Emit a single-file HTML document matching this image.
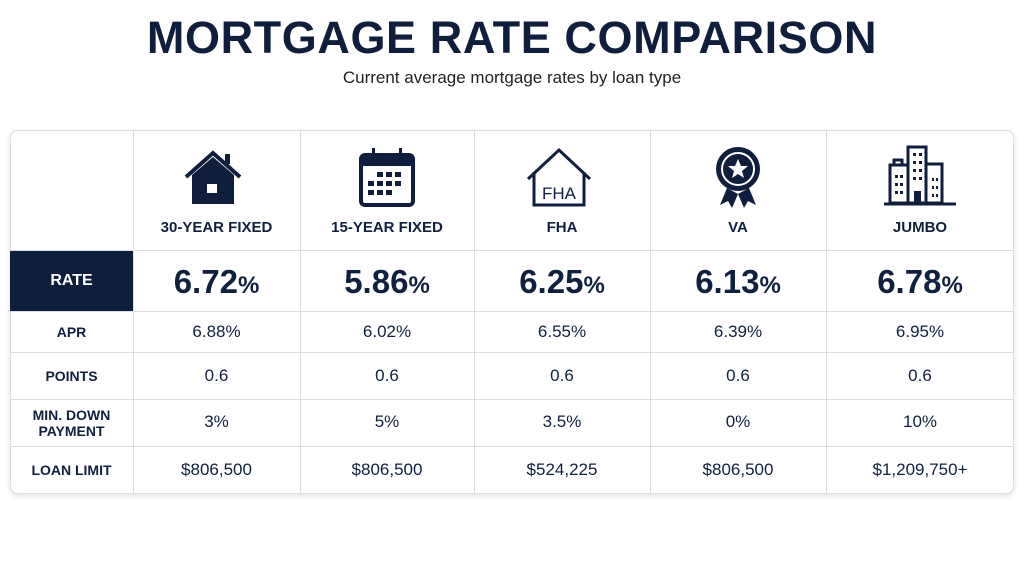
<!DOCTYPE html>
<html><head><style>
*{margin:0;padding:0;box-sizing:border-box}
body{width:1024px;height:576px;background:#fff;position:relative;overflow:hidden;font-family:"Liberation Sans",sans-serif;color:#10203f}
.a{position:absolute}
.t{left:0;width:1024px;text-align:center;top:12px;font-size:45px;font-weight:bold;letter-spacing:0.6px;color:#0f1e3d}
.s{left:0;width:1024px;text-align:center;top:68px;font-size:17px;color:#222}
.card{left:10px;top:130px;width:1004px;height:364px;border:1px solid #ddd;border-radius:8px;box-shadow:0 2px 6px rgba(0,0,0,.12)}
.hl{height:1px;background:#ddd;left:10px;width:1004px}
.vl{width:1px;background:#ddd;top:130px;height:364px}
.c{text-align:center}
.h{font-size:15px;font-weight:bold;top:219px}
.r{font-size:33px;font-weight:bold;top:263px}
.r span{font-size:24px}
.v{font-size:17px}
.lb{left:10px;width:123px;text-align:center;font-size:14px;font-weight:bold;line-height:16px}
</style></head><body>
<div class="a t">MORTGAGE RATE COMPARISON</div>
<div class="a s">Current average mortgage rates by loan type</div>
<div class="a card"></div>
<div class="a" style="left:10px;top:250px;width:123px;height:61px;background:#0f1e3d"></div>
<div class="a hl" style="top:250px"></div>
<div class="a hl" style="top:311px"></div>
<div class="a hl" style="top:352px"></div>
<div class="a hl" style="top:399px"></div>
<div class="a hl" style="top:446px"></div>
<div class="a vl" style="left:133px"></div>
<div class="a vl" style="left:300px"></div>
<div class="a vl" style="left:474px"></div>
<div class="a vl" style="left:650px"></div>
<div class="a vl" style="left:826px"></div>

<svg class="a" style="left:0;top:0" width="1024" height="250" fill="#0f1e3d" stroke="#0f1e3d">
<path d="M186 177 L213 153 L240 177" fill="none" stroke-width="4"/>
<rect x="225" y="154" width="5" height="10" stroke="none"/>
<path d="M192 175 L213 157 L234 175 V204 H192Z" stroke="none"/>
<rect x="207" y="184" width="10" height="9" fill="#fff" stroke="none"/>
<rect x="361" y="155" width="52" height="50" rx="4" fill="none" stroke-width="4"/>
<rect x="361" y="155" width="52" height="11" stroke="none"/>
<rect x="372" y="148" width="3" height="12" stroke="none"/><rect x="399" y="148" width="3" height="12" stroke="none"/>
<g stroke="none"><rect x="377" y="172" width="6" height="5"/><rect x="386" y="172" width="6" height="5"/><rect x="395" y="172" width="6" height="5"/>
<rect x="368" y="181" width="6" height="5"/><rect x="377" y="181" width="6" height="5"/><rect x="386" y="181" width="6" height="5"/><rect x="395" y="181" width="6" height="5"/>
<rect x="368" y="190" width="6" height="5"/><rect x="377" y="190" width="6" height="5"/><rect x="386" y="190" width="6" height="5"/></g>
<path d="M528 179 L559 150 L590 179" fill="none" stroke-width="3"/>
<path d="M534 172 V205 H584 V172" fill="none" stroke-width="3"/>
<text x="559" y="199" font-size="17" text-anchor="middle" stroke="none" font-family="Liberation Sans">FHA</text>
<path d="M727 188 L720 205 L728 201 L732 208 L738 194Z M749 188 L756 205 L748 201 L744 208 L738 194Z" stroke="none"/>
<circle cx="738" cy="169" r="22" stroke="none"/>
<circle cx="738" cy="169" r="16" fill="none" stroke="#fff" stroke-width="2"/>
<path d="M738 159 L741 166 L748 166 L742 171 L744 178 L738 174 L732 178 L734 171 L728 166 L735 166Z" fill="#fff" stroke="none"/>
<g fill="none" stroke-width="3"><rect x="908" y="147" width="18" height="56"/><rect x="890" y="165" width="18" height="38"/><rect x="926" y="164" width="16" height="39"/><rect x="894" y="160" width="8" height="5"/></g>
<line x1="884" y1="204" x2="956" y2="204" stroke-width="3"/>
<g stroke="none"><rect x="913" y="153" width="3" height="3"/><rect x="919" y="153" width="3" height="3"/><rect x="913" y="161" width="3" height="3"/><rect x="919" y="161" width="3" height="3"/><rect x="913" y="169" width="3" height="3"/><rect x="919" y="169" width="3" height="3"/><rect x="913" y="177" width="3" height="3"/><rect x="919" y="177" width="3" height="3"/><rect x="914" y="191" width="7" height="12"/>
<rect x="895" y="175" width="3" height="3"/><rect x="900" y="175" width="3" height="3"/><rect x="895" y="183" width="3" height="3"/><rect x="900" y="183" width="3" height="3"/><rect x="895" y="191" width="3" height="3"/><rect x="900" y="191" width="3" height="3"/>
<rect x="932" y="178" width="2" height="3"/><rect x="936" y="178" width="2" height="3"/><rect x="932" y="186" width="2" height="3"/><rect x="936" y="186" width="2" height="3"/><rect x="932" y="194" width="2" height="3"/><rect x="936" y="194" width="2" height="3"/></g>
</svg>

<div class="a c h" style="left:133px;width:167px">30-YEAR FIXED</div>
<div class="a c h" style="left:300px;width:174px">15-YEAR FIXED</div>
<div class="a c h" style="left:474px;width:176px">FHA</div>
<div class="a c h" style="left:650px;width:176px">VA</div>
<div class="a c h" style="left:826px;width:188px">JUMBO</div>

<div class="a lb" style="top:273px;color:#fff;font-size:16px">RATE</div>
<div class="a lb" style="top:324px">APR</div>
<div class="a lb" style="top:368px">POINTS</div>
<div class="a lb" style="top:407px">MIN. DOWN<br>PAYMENT</div>
<div class="a lb" style="top:462px">LOAN LIMIT</div>

<div class="a c r" style="left:133px;width:167px">6.72<span>%</span></div>
<div class="a c r" style="left:300px;width:174px">5.86<span>%</span></div>
<div class="a c r" style="left:474px;width:176px">6.25<span>%</span></div>
<div class="a c r" style="left:650px;width:176px">6.13<span>%</span></div>
<div class="a c r" style="left:826px;width:188px">6.78<span>%</span></div>

<div class="a c v" style="left:133px;width:167px;top:322px">6.88%</div>
<div class="a c v" style="left:300px;width:174px;top:322px">6.02%</div>
<div class="a c v" style="left:474px;width:176px;top:322px">6.55%</div>
<div class="a c v" style="left:650px;width:176px;top:322px">6.39%</div>
<div class="a c v" style="left:826px;width:188px;top:322px">6.95%</div>

<div class="a c v" style="left:133px;width:167px;top:366px">0.6</div>
<div class="a c v" style="left:300px;width:174px;top:366px">0.6</div>
<div class="a c v" style="left:474px;width:176px;top:366px">0.6</div>
<div class="a c v" style="left:650px;width:176px;top:366px">0.6</div>
<div class="a c v" style="left:826px;width:188px;top:366px">0.6</div>

<div class="a c v" style="left:133px;width:167px;top:412px">3%</div>
<div class="a c v" style="left:300px;width:174px;top:412px">5%</div>
<div class="a c v" style="left:474px;width:176px;top:412px">3.5%</div>
<div class="a c v" style="left:650px;width:176px;top:412px">0%</div>
<div class="a c v" style="left:826px;width:188px;top:412px">10%</div>

<div class="a c v" style="left:133px;width:167px;top:460px">$806,500</div>
<div class="a c v" style="left:300px;width:174px;top:460px">$806,500</div>
<div class="a c v" style="left:474px;width:176px;top:460px">$524,225</div>
<div class="a c v" style="left:650px;width:176px;top:460px">$806,500</div>
<div class="a c v" style="left:826px;width:188px;top:460px">$1,209,750+</div>
</body></html>
